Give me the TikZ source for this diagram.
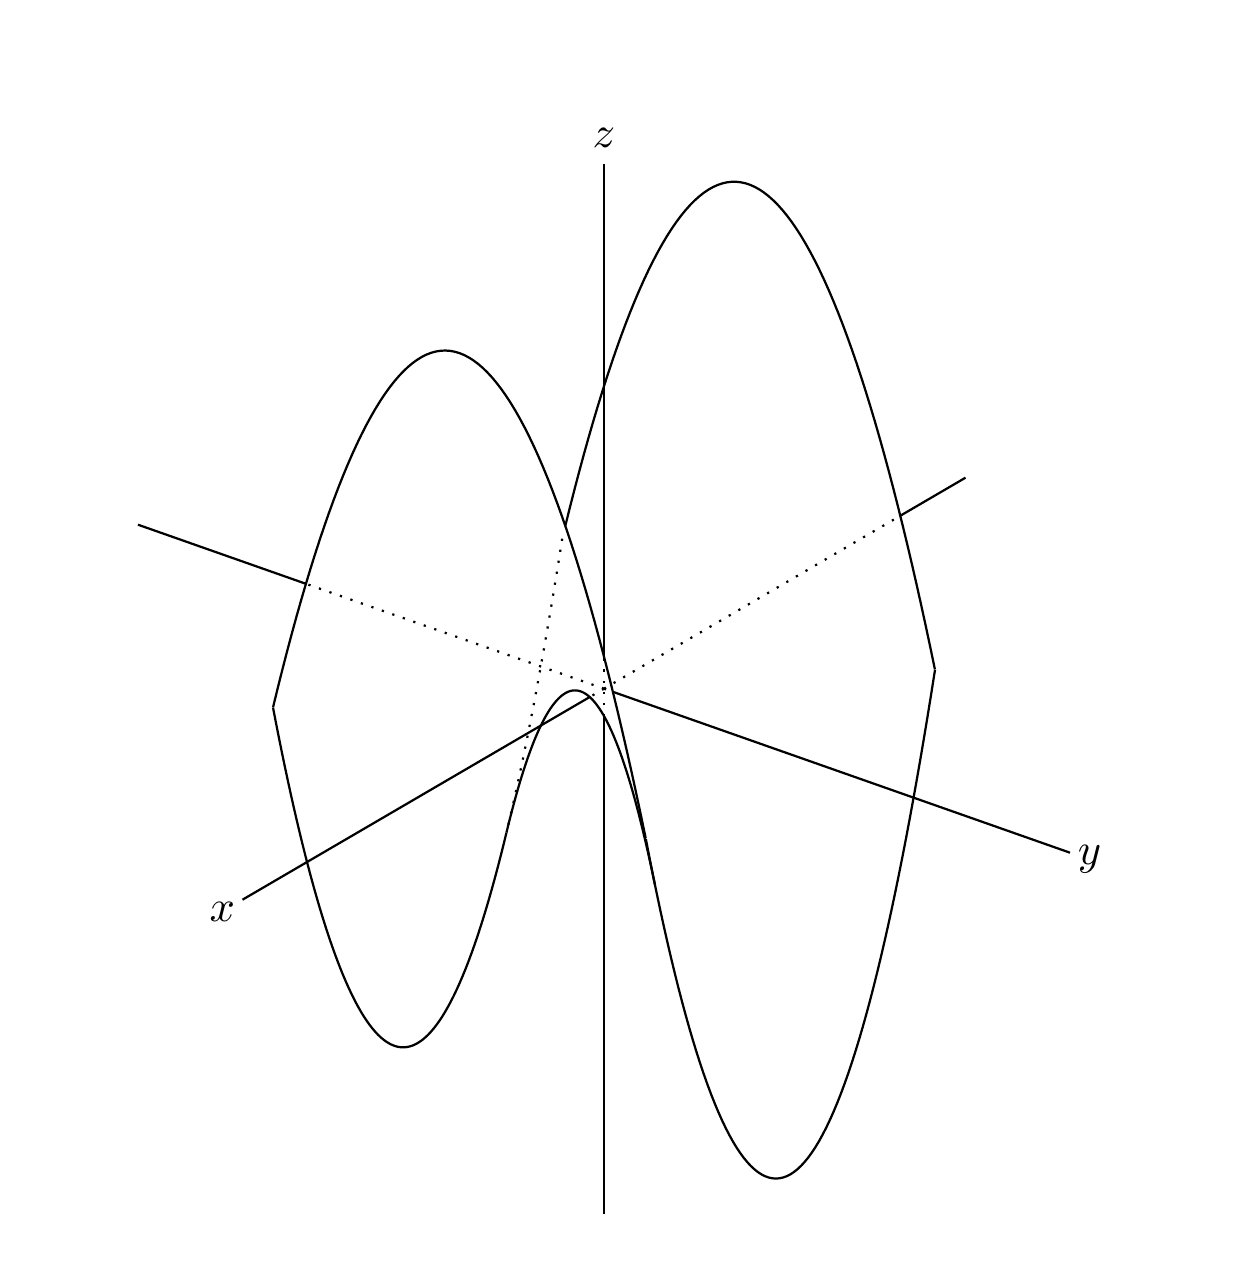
\documentclass[tikz,border=0pt]{standalone}
\begin{document}
\begin{tikzpicture}[
  x={(-16.2675pt,-9.495pt)}, y={(20.97pt,-7.38pt)}, z={(0pt,23.625pt)},
  visible/.style={line width=0.5pt},
  hidden/.style={dotted, line width=0.5pt},
  lbl/.style={inner sep=0pt}]
\useasboundingbox (-135.9pt,-130.7925pt) rectangle (146.475pt,154.9575pt);

% axis points
\coordinate (O) at (0,0,0);
\coordinate (xp) at (5,0,0);      \coordinate (xa) at (0.1975,0,0);
\coordinate (xm) at (-5,0,0);     \coordinate (xb) at (-4.0978,0,0);
\coordinate (yp) at (0,5,0);      \coordinate (ya) at (0,0.0952,0);
\coordinate (ym) at (0,-5,0);     \coordinate (yb) at (0,-3.198,0);
\coordinate (zp) at (0,0,5);      \coordinate (za) at (0,0,0.3048);
\coordinate (zm) at (0,0,-5);     \coordinate (zb) at (0,0,-0.2606);

% axes: visible parts
\draw[visible] (xa) -- (xp);
\draw[visible] (xb) -- (xm);
\draw[visible] (ya) -- (yp);
\draw[visible] (yb) -- (ym);
\draw[visible] (za) -- (zp);
\draw[visible] (zb) -- (zm);
% axes: hidden parts
\draw[hidden] (O) -- (xa);
\draw[hidden] (O) -- (xb);
\draw[hidden] (O) -- (ya);
\draw[hidden] (O) -- (yb);
\draw[hidden] (zb) -- (za);

% boundary of z = x^2 - y^2 over [-2,2]^2
\draw[visible] plot[domain=-2:2, samples=81] (2, \x, {4-(\x)*(\x)});
\draw[visible] plot[domain=-2:2, samples=81] (\x, 2, {(\x)*(\x)-4});
\draw[visible] plot[domain=-1.967:2, samples=81] (-2, \x, {4-(\x)*(\x)});
\draw[visible] plot[domain=-1.22938:2, samples=81] (\x, -2, {(\x)*(\x)-4});
\draw[hidden] plot[domain=-2:-1.22938, samples=30] (\x, -2, {(\x)*(\x)-4});

% silhouette (contour line)
\draw[visible] plot[domain=-2:2, samples=101]
  ({0.77575*\x+0.32212}, \x, {(0.77575*\x+0.32212)*(0.77575*\x+0.32212)-(\x)*(\x)});

% labels
\node[lbl] (xl) at (5.28,0,0) {$x$};
\node[lbl] (yl) at (0,5.21,0) {$y$};
\node[lbl] (zl) at (0,0,5.245) {$z$};
\end{tikzpicture}
\end{document}
